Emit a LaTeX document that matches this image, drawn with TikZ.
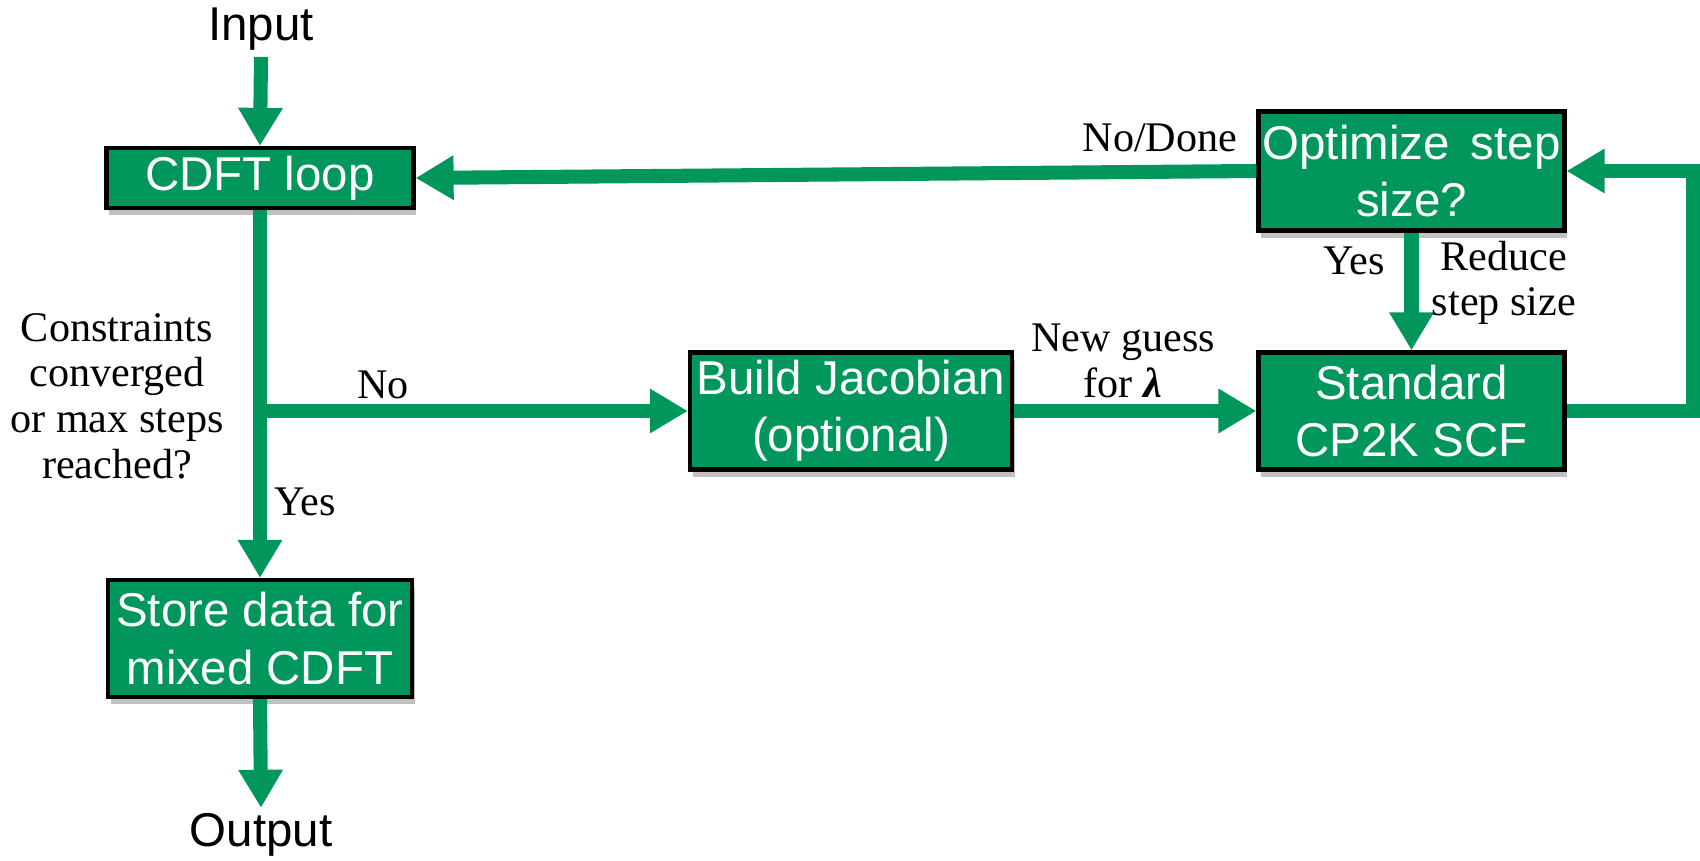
\documentclass[tikz,border=0pt]{standalone}
\usepackage{fontspec}
\setmainfont{Liberation Serif}
\newfontfamily\boxfont{Liberation Sans}
\usetikzlibrary{arrows.meta,shadows}
\definecolor{fgreen}{RGB}{0,150,92}
\tikzset{
  procbox/.style={draw=black, line width=1.2pt, fill=fgreen, text=white,
    font=\boxfont\fontsize{13.5pt}{16.3pt}\selectfont, align=center,
    inner sep=0pt, minimum width=3.06cm,
    drop shadow={shadow xshift=0.8pt, shadow yshift=-2pt, opacity=0.35, fill=black!70}},
  termtext/.style={font=\boxfont\fontsize{13.5pt}{15pt}\selectfont, inner sep=0pt},
  lbl/.style={font=\fontsize{12pt}{13pt}\selectfont, align=center, inner sep=0pt},
  flow/.style={draw=fgreen, line width=4pt, -{Triangle[length=0.38cm,width=0.42cm]}},
}
\begin{document}
\begin{tikzpicture}
\useasboundingbox (0,0) rectangle (17,8.6);
% terminals
\node[termtext] (in) at (2.61,8.31) {Input};
\node[termtext] (out) at (2.61,0.25) {Output};
% boxes
\node[procbox, minimum height=0.60cm, minimum width=3.07cm] (cdft) at (2.60,6.82) {CDFT loop};
\node[procbox, minimum height=1.19cm] (opt) at (14.115,6.89) {Optimize\, step\\size?};
\node[procbox, minimum height=1.17cm] (std) at (14.115,4.49) {Standard\\CP2K SCF};
\node[procbox, minimum height=1.17cm, minimum width=3.22cm] (build) at (8.51,4.49) {Build Jacobian\\(optional)};
\node[procbox, minimum height=1.17cm, minimum width=3.04cm] (store) at (2.60,2.215) {Store data for\\mixed CDFT};
% helper coordinates
\coordinate (br) at (cdft.south |- build.west);
\coordinate (rc) at (16.93,4.49);
% connectors
\draw[flow] ([yshift=-0.06cm]in.south) -- (cdft.north);
\draw[flow] (cdft.south) -- (store.north);
\draw[flow] (br) -- (build.west);
\draw[flow] (build.east) -- (std.west);
\draw[flow] (opt.south) -- (std.north);
\draw[flow] (std.east) -- (rc) |- (opt.east);
\draw[flow] (opt.west) -- (cdft.east);
\draw[flow] (store.south) -- ([yshift=0.05cm]out.north);
% labels
\node[lbl] (lno) at (3.83,4.75) {No};
\node[lbl] (lyes) at (3.05,3.58) {Yes};
\node[lbl] (lcon) at (1.17,4.64) {Constraints\\converged\\or max steps\\reached?};
\node[lbl] (lnew) at (11.23,4.99) {New guess\\for {\bfseries\itshape λ}};
\node[lbl] (lyes2) at (13.54,5.99) {Yes};
\node[lbl] (lred) at (15.04,5.77) {Reduce\\step size};
\node[lbl] (ldone) at (11.60,7.22) {No/Done};
\end{tikzpicture}
\end{document}
